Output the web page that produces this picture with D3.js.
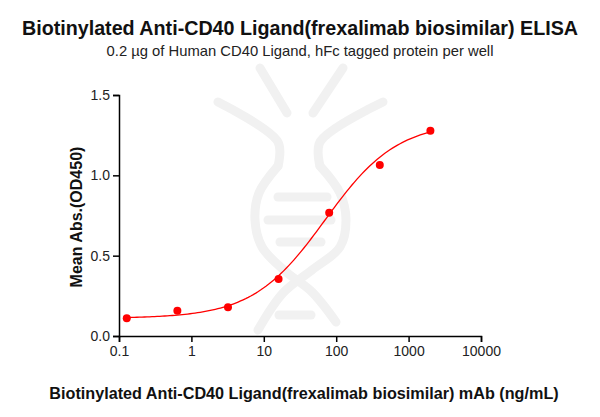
<!DOCTYPE html>
<html>
<head>
<meta charset="utf-8">
<script src="https://cdn.jsdelivr.net/npm/d3@7"></script>
<style>
  body { margin: 0; background: #fff; }
  svg { display: block; font-family: "Liberation Sans", Arial, sans-serif; }
</style>
</head>
<body>
<svg id="chart" width="600" height="417"></svg>
<script>
// concentrations (ng/mL) and mean OD450
const concentrations = [0.128, 0.64, 3.2, 16, 80, 400, 2000];
const meanAbs = [0.110, 0.157, 0.179, 0.355, 0.767, 1.064, 1.278];
const xTicks = [0.1, 1, 10, 100, 1000, 10000];
const yTicks = [0.0, 0.5, 1.0, 1.5];
// 4PL fit parameters (bottom, top, EC50, hill) estimated from the drawn curve
const fitParams = [0.11, 1.333, 70, 0.87];

const svg = d3.select('#chart');
const W = 600, H = 417;
const margin = { left: 119, right: 119, top: 95, bottom: 81 };

const x = d3.scaleLog().domain([0.1, 10000]).range([margin.left, W - margin.right]);
const y = d3.scaleLinear().domain([0, 1.5]).range([H - margin.bottom, margin.top]);

// faint watermark logo behind the plot
const wm = svg.append('g').attr('class', 'watermark')
  .attr('fill', 'none').attr('stroke', '#f1f1f1').attr('stroke-width', 9)
  .attr('stroke-linecap', 'round').attr('stroke-linejoin', 'round');
const smooth = d3.line().curve(d3.curveCatmullRom.alpha(0.5));
[
  [[260, 68], [287, 113]],
  [[343, 68], [313, 113]],
  [[218, 102], [278, 142], [278, 166]],
  [[383, 102], [320, 142], [320, 166]],
  [[278, 166], [259, 193], [255, 220], [262, 247], [285, 271], [312, 292], [336, 322]],
  [[320, 166], [340, 193], [346, 220], [340, 247], [312, 270], [283, 293], [258, 330]],
  [[278, 197], [327, 197]],
  [[268, 220], [331, 220]],
  [[280, 242], [321, 242]],
  [[279, 315], [311, 315]]
].forEach(pts => wm.append('path').attr('d', smooth(pts)));

// axes
const xAxis = svg.append('g')
  .attr('transform', `translate(0,${y(0)})`)
  .call(d3.axisBottom(x).tickValues(xTicks).tickFormat(d3.format('')).tickSizeOuter(0).tickSize(6).tickPadding(4));
const yAxis = svg.append('g')
  .attr('transform', `translate(${x(0.1)},0)`)
  .call(d3.axisLeft(y).tickValues(yTicks).tickFormat(d3.format('.1f')).tickSizeOuter(0).tickSize(6).tickPadding(3));
[xAxis, yAxis].forEach(a => {
  a.select('.domain').attr('stroke', '#000').attr('stroke-width', 1.5);
  a.selectAll('.tick line').attr('stroke', '#000').attr('stroke-width', 1.5);
  a.selectAll('.tick text').attr('fill', '#222').style('font-size', '14px')
    .style('font-family', '"Liberation Sans", Arial, sans-serif');
});

// fitted curve
const [fitBottom, fitTop, ec50, hill] = fitParams;
const fit = c => fitBottom + (fitTop - fitBottom) / (1 + Math.pow(ec50 / c, hill));
const logMin = Math.log10(concentrations[0]);
const logMax = Math.log10(concentrations[concentrations.length - 1]);
const curveX = d3.range(0, 121).map(i => Math.pow(10, logMin + i / 120 * (logMax - logMin)));
svg.append('path')
  .datum(curveX)
  .attr('fill', 'none').attr('stroke', '#ff0000').attr('stroke-width', 1.3)
  .attr('d', d3.line().x(c => x(c)).y(c => y(fit(c))));

// data points
svg.append('g').selectAll('circle')
  .data(concentrations.map((c, i) => ({ c, v: meanAbs[i] })))
  .join('circle')
  .attr('cx', d => x(d.c)).attr('cy', d => y(d.v)).attr('r', 4)
  .attr('fill', '#ff0000');

// titles
svg.append('text').attr('x', 300).attr('y', 35).attr('text-anchor', 'middle')
  .style('font-size', '19.7px').style('font-weight', 'bold').attr('fill', '#111')
  .text('Biotinylated Anti-CD40 Ligand(frexalimab biosimilar) ELISA');
svg.append('text').attr('x', 300).attr('y', 56).attr('text-anchor', 'middle')
  .style('font-size', '14.8px').attr('fill', '#222')
  .text('0.2 \u00b5g of Human CD40 Ligand, hFc tagged protein per well');
svg.append('text').attr('x', 304).attr('y', 399).attr('text-anchor', 'middle')
  .style('font-size', '16.2px').style('font-weight', 'bold').attr('fill', '#111')
  .text('Biotinylated Anti-CD40 Ligand(frexalimab biosimilar) mAb (ng/mL)');
svg.append('text').attr('transform', 'translate(82,217) rotate(-90)')
  .attr('text-anchor', 'middle')
  .style('font-size', '16px').style('font-weight', 'bold').attr('fill', '#111')
  .text('Mean Abs.(OD450)');
</script>
</body>
</html>
